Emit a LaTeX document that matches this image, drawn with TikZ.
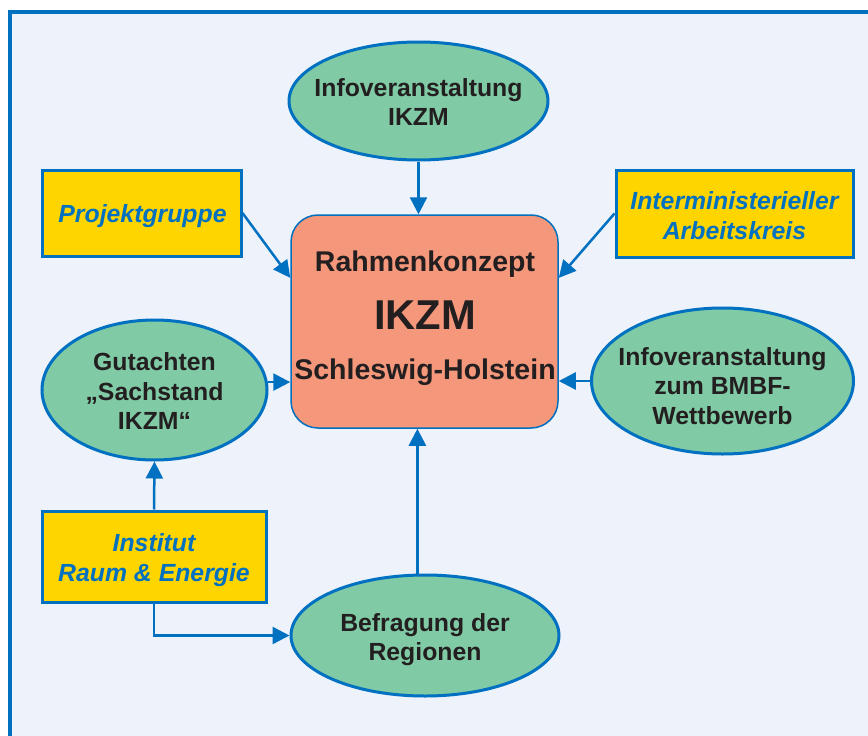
\documentclass[tikz,border=0pt]{standalone}
\usepackage{fontspec}
\setmainfont{Liberation Sans}
\usetikzlibrary{shapes.geometric,arrows.meta,calc}
\definecolor{bgc}{HTML}{EDF2FB}
\definecolor{bl}{HTML}{0070C0}
\definecolor{grn}{HTML}{80CBA5}
\definecolor{yel}{HTML}{FFD500}
\definecolor{sal}{HTML}{F4977A}
\definecolor{txt}{HTML}{231F20}
\newcommand\fsz[2]{\fontsize{#1}{#2}\selectfont}
\tikzset{
  ell/.style={ellipse, draw=bl, line width=3pt, fill=grn, inner sep=0pt},
  etxt/.style={align=center, text=txt, inner sep=0pt, font=\fsz{24.8}{29.5}\bfseries},
  ybox/.style={rectangle, draw=bl, line width=3pt, fill=yel, inner sep=0pt},
  ytxt/.style={align=center, text=bl, inner sep=0pt, font=\fsz{24.8}{29.5}\bfseries\itshape},
  arr/.style={draw=bl, line width=2.5pt, -{Triangle[length=17pt,width=17pt]}},
  ctext/.style={anchor=base, text=txt, inner sep=0pt},
}
\begin{document}
\begin{tikzpicture}[x=1pt,y=-1pt]
\useasboundingbox (0,0) rectangle (868,736);
\fill[white] (0,0) rectangle (868,736);
\fill[bgc] (10,12) rectangle (880,750);
\draw[bl, line width=4pt] (10,750) -- (10,12) -- (880,12);

% central box
\node[rectangle, rounded corners=27pt, draw=bl, line width=1.5pt, fill=sal,
  minimum width=267pt, minimum height=213pt, inner sep=0pt] (box) at (424.5,321.5) {};
\node[ctext, font=\fsz{28.5}{34}\bfseries] (t1) at (425,271) {Rahmenkonzept};
\node[ctext, font=\fsz{41.7}{48}\bfseries] (t2) at (425,329) {IKZM};
\node[ctext, font=\fsz{28.5}{34}\bfseries] (t3) at (425,379) {Schleswig-Holstein};

% ellipses
\node[ell, minimum width=259pt, minimum height=118pt,
  label={[etxt, yshift=-1pt]center:Infoveranstaltung\\IKZM}] (info) at (418.5,101) {};
\node[ell, minimum width=225pt, minimum height=140pt,
  label={[etxt, yshift=-1.5pt]center:Gutachten\\„Sachstand\\IKZM“}] (gut) at (154.5,390) {};
\node[ell, minimum width=262pt, minimum height=146pt,
  label={[etxt, yshift=-5pt]center:Infoveranstaltung\\zum BMBF-\\Wettbewerb}] (bmbf) at (722.5,381) {};
\node[ell, minimum width=268pt, minimum height=121pt,
  label={[etxt, yshift=-4pt]center:Befragung der\\Regionen}] (bef) at (425,635.5) {};

% yellow boxes
\node[ybox, minimum width=199pt, minimum height=86pt,
  label={[ytxt, yshift=-3pt, xshift=1pt]center:Projektgruppe}] (proj) at (141.5,213) {};
\node[ybox, minimum width=237pt, minimum height=87pt,
  label={[ytxt, yshift=-2pt]center:Interministerieller\\Arbeitskreis}] (imak) at (734.5,213.5) {};
\node[ybox, minimum width=224pt, minimum height=91pt,
  label={[ytxt, yshift=-3.5pt]center:Institut\\Raum \& Energie}] (inst) at (154,556.5) {};

% connectors
\draw[arr] (info.south) -- (info.south |- box.north);
\draw[arr] (proj.east) -- (box.162);
\draw[arr] (imak.west) -- (box.18);
\draw[arr] (gut.4) -- (gut.4 -| box.west);
\draw[arr] (bmbf.west) -- (bmbf.west -| box.east);
\draw[arr] (bef.97.5) -- (bef.97.5 |- box.south);
\draw[arr] (inst.north) -- (gut.south);
\draw[arr] (inst.south) -- (inst.south |- bef.west) -- (bef.west);
\end{tikzpicture}
\end{document}
